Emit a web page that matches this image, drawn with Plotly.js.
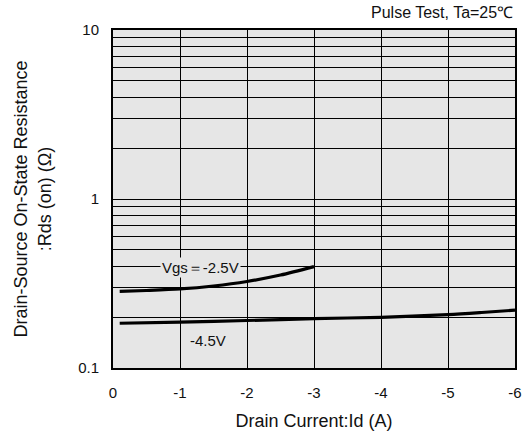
<!DOCTYPE html>
<html>
<head>
<meta charset="utf-8">
<script src="https://cdn.plot.ly/plotly-3.0.1.min.js"></script>
<style>html,body{margin:0;padding:0;background:#fff;}#chart{width:527px;height:435px;}</style>
</head>
<body>
<div id="chart"></div>
<script>
// Data
const idA_25 = [-0.1, -0.5, -1, -1.5, -2, -2.5, -3];
const rds_25 = [0.284, 0.2875, 0.2935, 0.3057, 0.325, 0.3548, 0.398];
const idA_45 = [-0.1, -1, -2, -3, -4, -5, -5.5, -6];
const rds_45 = [0.184, 0.187, 0.191, 0.196, 0.1995, 0.207, 0.213, 0.220];
const xTickVals = [0, -1, -2, -3, -4, -5, -6];
const xTickText = ['0', '-1', '-2', '-3', '-4', '-5', '-6'];
const yTickVals = [0.1,0.2,0.3,0.4,0.5,0.6,0.7,0.8,0.9,1,2,3,4,5,6,7,8,9,10];
const yTickText = ['0.1','','','','','','','','','1','','','','','','','','','10'];
const label25 = 'Vgs＝-2.5V';
const label45 = '-4.5V';
const noteText = 'Pulse Test, Ta=25℃';

const FONT = 'Liberation Sans, Arial, Helvetica, sans-serif';
const BG = '#e6e6e6';

const traces = [
  {x: idA_25, y: rds_25, mode: 'lines', line: {color: '#000', width: 3.2, shape: 'spline', smoothing: 0.8}, hoverinfo: 'skip'},
  {x: idA_45, y: rds_45, mode: 'lines', line: {color: '#000', width: 3.2, shape: 'spline', smoothing: 0.8}, hoverinfo: 'skip'}
];

const layout = {
  width: 527, height: 435,
  margin: {l: 113, r: 12, t: 30, b: 67},
  paper_bgcolor: '#fff',
  plot_bgcolor: BG,
  showlegend: false,
  font: {family: FONT, size: 15, color: '#111'},
  xaxis: {
    range: [0, -6],
    tickvals: xTickVals, ticktext: xTickText,
    showgrid: true, gridcolor: '#000', gridwidth: 1,
    zeroline: false,
    showline: true, linecolor: '#000', linewidth: 2, mirror: true,
    ticks: '',
    tickfont: {family: FONT, size: 15, color: '#111'},
    ticklabelstandoff: 10,
    title: {text: 'Drain Current:Id (A)', font: {family: FONT, size: 18, color: '#111'}, standoff: 14}
  },
  yaxis: {
    type: 'log',
    range: [-1, 1],
    tickvals: yTickVals, ticktext: yTickText,
    showgrid: true, gridcolor: '#000', gridwidth: 1,
    zeroline: false,
    showline: true, linecolor: '#000', linewidth: 2, mirror: true,
    ticks: '',
    tickfont: {family: FONT, size: 15, color: '#111'},
    ticklabelstandoff: 9,
    title: {text: 'Drain-Source On-State Resistance<br>:Rds (on) (Ω)', font: {family: FONT, size: 18, color: '#111'}, standoff: 22}
  },
  annotations: [
    {x: -1.31, y: Math.log10(0.393), xref: 'x', yref: 'y', text: label25, showarrow: false,
     font: {family: FONT, size: 15, color: '#111'}, bgcolor: BG, borderpad: 1, xanchor: 'center', yanchor: 'middle'},
    {x: -1.42, y: Math.log10(0.145), xref: 'x', yref: 'y', text: label45, showarrow: false,
     font: {family: FONT, size: 15, color: '#111'}, xanchor: 'center', yanchor: 'middle'},
    {x: 1, y: 1.052, xref: 'paper', yref: 'paper', text: noteText, showarrow: false,
     font: {family: FONT, size: 16, color: '#111'}, xanchor: 'right', yanchor: 'middle'}
  ]
};

Plotly.newPlot('chart', traces, layout, {staticPlot: true, displayModeBar: false});
</script>
</body>
</html>
